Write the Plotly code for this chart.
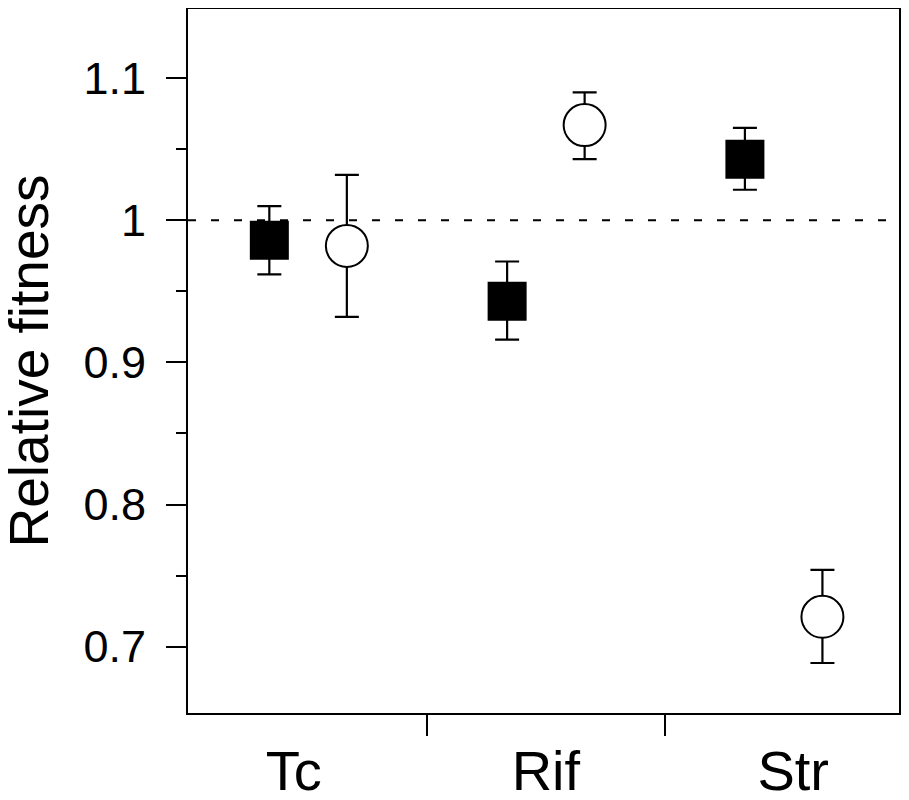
import plotly.graph_objects as go

# datos
grupos = ["Tc", "Rif", "Str"]
lleno_media = [0.986, 0.943, 1.043]
lleno_sup = [1.010, 0.971, 1.065]
lleno_inf = [0.962, 0.916, 1.0215]
abierto_media = [0.982, 1.067, 0.721]
abierto_sup = [1.032, 1.090, 0.754]
abierto_inf = [0.932, 1.043, 0.6885]
y_ticks = [0.7, 0.8, 0.9, 1.0, 1.1]
y_ticktext = ["0.7", "0.8", "0.9", "1", "1.1"]
y_minor = [0.75, 0.85, 0.95, 1.05]
linea_ref = 1.0
titulo_y = "Relative fitness"

desp = 0.163
pos = [i + 1 for i in range(len(grupos))]
x_lleno = [p - desp for p in pos]
x_abierto = [p + desp for p in pos]
# las etiquetas del eje x no quedan justo en el centro del grupo
pos_etiquetas = [0.94, 2.0, 3.04]

fuente = "Liberation Sans, Arial, sans-serif"

fig = go.Figure()

fig.add_trace(go.Scatter(
    x=x_lleno, y=lleno_media, mode="markers",
    marker=dict(symbol="square", size=37, color="black",
                line=dict(color="black", width=2)),
    error_y=dict(type="data", symmetric=False,
                 array=[s - m for s, m in zip(lleno_sup, lleno_media)],
                 arrayminus=[m - i for m, i in zip(lleno_media, lleno_inf)],
                 color="black", thickness=2.2, width=12),
    showlegend=False, hoverinfo="skip"))

fig.add_trace(go.Scatter(
    x=x_abierto, y=abierto_media, mode="markers",
    marker=dict(symbol="circle", size=42, color="white",
                line=dict(color="black", width=2)),
    error_y=dict(type="data", symmetric=False,
                 array=[s - m for s, m in zip(abierto_sup, abierto_media)],
                 arrayminus=[m - i for m, i in zip(abierto_media, abierto_inf)],
                 color="black", thickness=2.2, width=12),
    showlegend=False, hoverinfo="skip"))

# línea de referencia punteada en 1
fig.add_shape(type="line", xref="paper", x0=0, x1=1, yref="y",
              y0=linea_ref, y1=linea_ref, layer="below",
              line=dict(color="black", width=2, dash="8px,15px"))

# título del eje y como anotación para poder pegarlo al borde
fig.add_annotation(text=titulo_y, textangle=-90, showarrow=False,
                   xref="paper", yref="paper", x=-0.223, y=0.5,
                   xanchor="center", yanchor="middle",
                   font=dict(family=fuente, size=55, color="black"))

fig.update_xaxes(
    range=[0.495, 3.485], tickvals=pos_etiquetas, ticktext=grupos, ticks="",
    tickfont=dict(family=fuente, size=56, color="black"),
    minor=dict(tickvals=[1.5, 2.5], ticks="outside", ticklen=21,
               tickwidth=2, tickcolor="black"),
    showline=True, linecolor="black", linewidth=2, mirror=True,
    showgrid=False, zeroline=False, ticklabelstandoff=8, automargin=False)

fig.update_yaxes(
    range=[0.6533, 1.1487], tickvals=y_ticks, ticktext=y_ticktext,
    ticks="outside", ticklen=20, tickwidth=2, tickcolor="black",
    tickfont=dict(family=fuente, size=45, color="black"),
    minor=dict(tickvals=y_minor, ticks="outside", ticklen=10,
               tickwidth=2, tickcolor="black"),
    showline=True, linecolor="black", linewidth=2, mirror=True,
    showgrid=False, zeroline=False, ticklabelstandoff=11, automargin=False)

# la página tiene 8 px de margen, así que la figura es algo más pequeña
fig.update_layout(
    width=893, height=784,
    margin=dict(l=180, r=2, t=1, b=79),
    plot_bgcolor="white", paper_bgcolor="white",
    font=dict(family=fuente, color="black"))

fig.write_html("out.html")
